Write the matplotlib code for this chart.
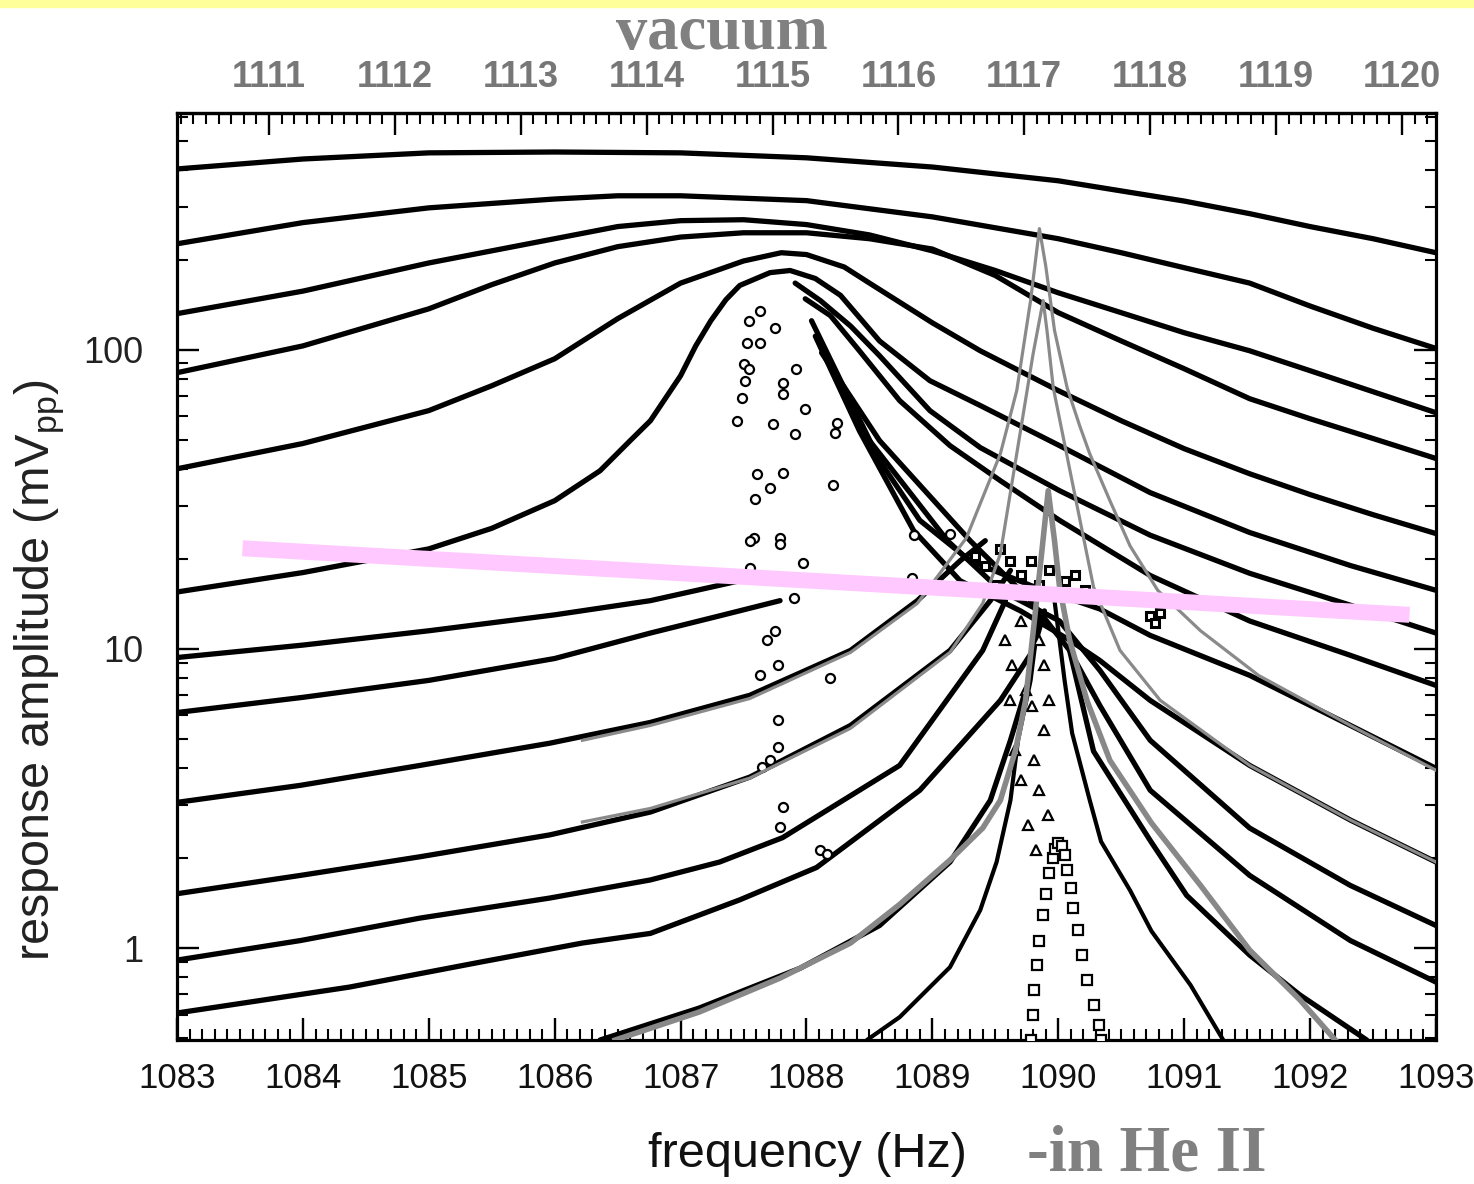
import matplotlib
matplotlib.use("Agg")
import matplotlib.pyplot as plt
from matplotlib.patches import Rectangle
from matplotlib.transforms import ScaledTranslation
from matplotlib.ticker import MultipleLocator, FixedLocator, LogLocator, NullFormatter

plt.rcParams["mathtext.fontset"] = "custom"
plt.rcParams["mathtext.rm"] = "Liberation Sans"

SANS = ["Liberation Sans", "DejaVu Sans"]
SERIF = ["Liberation Serif", "DejaVu Serif"]

# vacuum frequency minus He II frequency (Hz)
vac_shift = 27.27

# ---- broad high-drive sweeps (Hz, mVpp) ----
a1_x = [1083, 1084, 1085, 1086, 1087, 1088, 1089, 1090, 1091, 1091.52, 1092, 1092.5, 1093]
a1_y = [402, 434, 455, 458, 455, 438, 408, 367, 314, 285, 258, 235, 211]

a2_x = [1083, 1084, 1085, 1086, 1086.5, 1087, 1088, 1089, 1090, 1090.5, 1091, 1091.52, 1092, 1092.5, 1093]
a2_y = [226, 266, 298, 319, 327, 327, 315, 278, 235, 211, 188, 167, 140, 118, 101]

a3_x = [1083, 1084, 1085, 1086, 1086.5, 1087, 1087.5, 1088, 1088.5, 1089, 1089.5, 1090, 1090.5, 1091,
        1091.52, 1092, 1092.5, 1093]
a3_y = [132, 157, 195, 235, 258, 270, 272, 262, 242, 214, 184, 155, 133, 114, 99.2, 85.1, 72.4, 61.6]

a4_x = [1083, 1084, 1085, 1085.5, 1086, 1086.5, 1087, 1087.5, 1088, 1088.5, 1089, 1089.5, 1090, 1090.5,
        1091, 1091.52, 1092, 1092.5, 1093]
a4_y = [83.8, 103, 137, 165, 195, 221, 238, 246, 246, 235, 217, 177, 133, 107, 86.4, 68.6, 58.8, 50.5, 43.3]

a5_x = [1083, 1084, 1085, 1085.5, 1086, 1086.5, 1087, 1087.5, 1087.8, 1088, 1088.3, 1088.5, 1089, 1089.38,
        1090, 1090.5, 1091, 1091.52, 1092, 1092.5, 1093]
a5_y = [40.0, 48.6, 62.6, 75.8, 93.3, 127, 167, 198, 211, 208, 189, 167, 123, 99.2, 73.0, 57.9, 46.7, 38.5,
        32.8, 28.1, 24.3]

a6_x = [1083, 1084, 1085, 1085.5, 1086, 1086.36, 1086.6, 1086.76, 1087.0, 1087.12, 1087.24, 1087.36, 1087.47,
        1087.71, 1087.87, 1088.07, 1088.27, 1088.58, 1088.98, 1089.38, 1090.01, 1090.73, 1091.52, 1092.32, 1093]
a6_y = [15.5, 18.0, 21.6, 25.3, 31.3, 39.4, 49.7, 57.9, 81.9, 103, 125, 147, 164, 181, 184, 173, 152, 107,
        78.8, 65.1, 47.8, 33.3, 24.5, 19.0, 15.7]

# ---- hysteretic sweeps: lower branch (left) and upper branch (right) ----
a7_lo_x = [1083, 1084, 1085, 1086, 1086.76, 1087.47]
a7_lo_y = [9.36, 10.3, 11.5, 13.0, 14.5, 16.9]
a7_hi_x = [1087.91, 1088.11, 1088.35, 1088.58, 1088.98, 1089.38, 1090.01, 1090.73, 1091.52, 1092.32, 1093]
a7_hi_y = [167, 146, 120, 95.5, 62.6, 47.1, 33.8, 24.0, 17.9, 14.0, 11.3]

a8_lo_x = [1083, 1084, 1085, 1086, 1086.76, 1087.31, 1087.79]
a8_lo_y = [6.13, 6.89, 7.85, 9.29, 11.3, 12.9, 14.5]
a8_hi_x = [1087.99, 1088.19, 1088.42, 1088.74, 1089.14, 1089.54, 1090.01, 1090.73, 1091.52, 1092.32, 1093]
a8_hi_y = [148, 130, 99.2, 67.6, 47.8, 36.5, 26.9, 17.6, 12.4, 9.52, 7.55]

a9_lo_x = [1083, 1083.98, 1084.93, 1085.96, 1086.76, 1087.55, 1088.35, 1088.88, 1089.22, 1089.42]
a9_lo_y = [3.07, 3.50, 4.08, 4.84, 5.68, 7.00, 9.89, 14.5, 19.7, 23.0]
a9_hi_x = [1088.04, 1088.31, 1088.58, 1088.90, 1089.30, 1089.78, 1090.33, 1090.73, 1091.52, 1092.32, 1093]
a9_hi_y = [125, 73.0, 42.6, 26.9, 19.7, 16.3, 13.6, 11.1, 8.16, 5.55, 3.99]

a10_lo_x = [1083, 1083.98, 1084.93, 1085.96, 1086.76, 1087.55, 1088.35, 1089.14, 1089.46, 1089.62]
a10_lo_y = [1.52, 1.75, 2.02, 2.39, 2.85, 3.73, 5.55, 9.89, 14.5, 18.3]
a10_hi_x = [1088.07, 1088.42, 1088.85, 1089.22, 1089.70, 1090.09, 1090.33, 1090.73, 1091.52, 1092.32, 1093]
a10_hi_y = [111, 53.6, 24.9, 16.9, 13.4, 10.7, 9.15, 6.73, 4.08, 2.68, 1.94]

a11_lo_x = [1083, 1083.98, 1084.93, 1085.96, 1086.76, 1087.31, 1087.81, 1088.74, 1089.40, 1089.58]
a11_lo_y = [0.912, 1.06, 1.26, 1.47, 1.69, 1.94, 2.34, 4.08, 9.89, 14.5]
a11_hi_x = [1088.11, 1088.50, 1089.12, 1089.54, 1090.01, 1090.33, 1090.73, 1091.52, 1092.32, 1093]
a11_hi_y = [103, 49.7, 23.0, 15.7, 12.4, 8.48, 4.95, 2.52, 1.62, 1.19]

a12_lo_x = [1083, 1084.37, 1085.41, 1086.22, 1086.76, 1087.47, 1088.08, 1088.90, 1089.54, 1089.80, 1089.89]
a12_lo_y = [0.607, 0.741, 0.898, 1.04, 1.12, 1.45, 1.86, 3.37, 6.73, 9.89, 13.4]
a12_hi_x = [1088.12, 1088.58, 1089.30, 1089.78, 1090.09, 1090.33, 1090.73, 1091.52, 1092.32, 1093]
a12_hi_y = [97.7, 49.7, 23.0, 14.5, 9.89, 6.47, 3.37, 1.75, 1.06, 0.770]

# ---- low-drive sweeps near the He II resonance ----
b1_lo_x = [1086.36, 1087.15, 1087.95, 1088.58, 1089.14, 1089.46, 1089.62, 1089.74]
b1_lo_y = [0.493, 0.631, 0.857, 1.19, 1.94, 3.12, 4.95, 7.27]
b1_hi_x = [1090.09, 1090.28, 1090.73, 1091.02, 1091.52, 1091.92, 1092.45]
b1_hi_y = [9.89, 4.55, 2.29, 1.50, 0.948, 0.697, 0.493]

b2_lo_x = [1088.48, 1088.74, 1089.14, 1089.38, 1089.51, 1089.62, 1089.68, 1089.78, 1089.85]
b2_lo_y = [0.493, 0.588, 0.864, 1.34, 1.94, 3.12, 4.95, 7.85, 13.4]
b2_hi_x = [1089.97, 1090.05, 1090.11, 1090.25, 1090.34, 1090.57, 1090.74, 1091.05, 1091.31]
b2_hi_y = [14.5, 7.85, 5.23, 3.12, 2.27, 1.56, 1.14, 0.753, 0.493]

b3_x = [1089.78, 1089.80, 1089.81, 1089.83, 1089.85, 1089.88, 1089.90, 1089.93, 1089.96, 1089.97, 1090.00,
        1090.03, 1090.05, 1090.07, 1090.10, 1090.12, 1090.16, 1090.19, 1090.23, 1090.28, 1090.32, 1090.34]
b3_y = [0.493, 0.598, 0.724, 0.878, 1.06, 1.29, 1.52, 1.78, 2.00, 2.15, 2.24,
        2.20, 2.04, 1.82, 1.59, 1.36, 1.15, 0.948, 0.782, 0.646, 0.553, 0.493]

# ---- linear-response fits (grey) ----
g1_x = [1086.22, 1086.76, 1087.55, 1088.35, 1088.88, 1089.27, 1089.54, 1089.67, 1089.78, 1089.85,
        1089.90, 1089.97, 1090.07, 1090.17, 1090.25, 1090.41, 1090.57, 1090.79, 1091.13, 1091.59, 1092.32, 1093]
g1_y = [4.95, 5.55, 6.83, 9.74, 14.2, 23.5, 44.9, 73.0, 146, 254,
        191, 116, 74.7, 55.7, 44.9, 31.3, 22.1, 15.7, 11.5, 8.16, 5.55, 3.93]

g2_x = [1086.22, 1086.76, 1087.55, 1088.35, 1089.14, 1089.40, 1089.54, 1089.67, 1089.80, 1089.88,
        1089.91, 1089.96, 1090.12, 1090.28, 1090.49, 1090.81, 1091.52, 1092.32, 1093]
g2_y = [2.64, 2.93, 3.70, 5.43, 9.74, 14.2, 20.8, 44.9, 96.9, 146,
        116, 74.7, 34.6, 16.1, 9.89, 6.73, 4.08, 2.68, 1.94]

g3_x = [1086.48, 1087.15, 1087.79, 1088.35, 1088.74, 1089.14, 1089.40, 1089.54, 1089.66, 1089.74, 1089.81,
        1089.87, 1089.92, 1089.97, 1090.01, 1090.09, 1090.23, 1090.41, 1090.74, 1091.13, 1091.52, 1091.92,
        1092.20]
g3_y = [0.493, 0.612, 0.794, 1.04, 1.40, 1.97, 2.52, 3.12, 4.58, 6.73, 12.4,
        21.3, 33.8, 23.0, 16.1, 10.7, 6.68, 4.24, 2.62, 1.62, 0.985, 0.671,
        0.493]

# ---- isolated points recorded while the amplitude jumped between branches ----
jump_x = [1087.63, 1087.54, 1087.53, 1087.63, 1087.75, 1087.50, 1087.54, 1087.51, 1087.81, 1087.81,
          1087.92, 1087.99, 1087.49, 1087.45, 1087.73, 1087.91, 1088.24, 1088.23, 1087.61, 1087.81,
          1087.71, 1088.21, 1087.59, 1087.58, 1087.79, 1088.85, 1087.55, 1087.79, 1087.55, 1087.97,
          1087.90, 1088.84, 1089.14, 1087.77, 1087.77, 1087.71, 1087.65, 1087.81, 1087.79, 1088.11,
          1088.16, 1087.77, 1087.63, 1088.19, 1087.75, 1087.69]
jump_y = [135, 125, 105, 105, 118, 89.8, 86.4, 78.8, 77.6, 71.3,
          86.4, 63.6, 69.2, 57.9, 56.6, 52.4, 57.0, 52.8, 38.5, 38.8,
          34.6, 35.3, 31.8, 23.5, 23.4, 24.0, 23.0, 22.5, 18.7, 19.4,
          14.8, 17.2, 24.3, 5.77, 4.69, 4.24, 4.02, 2.96, 2.54, 2.12,
          2.07, 8.81, 8.16, 7.97, 11.5, 10.7]

tri_x = [1089.58, 1089.63, 1089.70, 1089.74, 1089.79, 1089.85, 1089.89, 1089.93, 1089.81, 1089.85,
         1089.92, 1089.70, 1089.66, 1089.76, 1089.82, 1089.89, 1089.62]
tri_y = [10.7, 8.81, 12.4, 7.27, 6.47, 10.7, 8.81, 6.73, 4.24, 3.37,
         2.78, 3.64, 4.58, 2.58, 2.12, 5.35, 6.73]

crowd_x = [1089.54, 1089.62, 1089.70, 1089.78, 1089.85, 1089.93, 1089.99, 1090.05, 1090.13, 1090.21,
           1090.73, 1090.77, 1090.81, 1089.42, 1089.50, 1089.34]
crowd_y = [21.6, 19.7, 17.6, 19.7, 16.3, 18.3, 15.1, 16.9, 17.6, 15.7,
           12.9, 12.2, 13.2, 19.0, 16.3, 20.5]

# threshold guide
guide_x = [1083.52, 1092.79]
guide_y = [21.7, 13.0]

x_ticks = list(range(1083, 1094))
vac_ticks = list(range(1111, 1121))

fig = plt.figure(figsize=(14.74, 11.84), dpi=100)
fig.patches.append(Rectangle((0, 1 - 7 / 1184), 1, 7 / 1184, transform=fig.transFigure,
                             color="#ffff99", zorder=0))
ax = fig.add_axes([0.1201, 0.1216, 0.8541, 0.7829])
ax.set_yscale("log")

black = dict(color="black", lw=3.8, solid_capstyle="round", solid_joinstyle="round", zorder=3)
sweeps = [(a1_x, a1_y), (a2_x, a2_y), (a3_x, a3_y), (a4_x, a4_y), (a5_x, a5_y), (a6_x, a6_y),
          (a7_lo_x, a7_lo_y), (a7_hi_x, a7_hi_y), (a8_lo_x, a8_lo_y), (a8_hi_x, a8_hi_y),
          (a9_lo_x, a9_lo_y), (a9_hi_x, a9_hi_y), (a10_lo_x, a10_lo_y), (a10_hi_x, a10_hi_y),
          (a11_lo_x, a11_lo_y), (a11_hi_x, a11_hi_y), (a12_lo_x, a12_lo_y), (a12_hi_x, a12_hi_y),
          (b1_lo_x, b1_lo_y), (b1_hi_x, b1_hi_y)]
for xs, ys in sweeps:
    ax.plot(xs, ys, **black)

for xs, ys in [(b2_lo_x, b2_lo_y), (b2_hi_x, b2_hi_y)]:
    ax.plot(xs, ys, color="black", lw=3.0, solid_capstyle="round", zorder=3)

ax.plot(b3_x, b3_y, ls="none", marker="s", ms=6.5, mfc="white", mec="black", mew=1.6, zorder=4)
ax.plot(jump_x, jump_y, ls="none", marker="o", ms=6.5, mfc="white", mec="black", mew=1.6, zorder=4)
ax.plot(tri_x, tri_y, ls="none", marker="^", ms=6.5, mfc="white", mec="black", mew=1.6, zorder=4)
ax.plot(crowd_x, crowd_y, ls="none", marker="s", ms=6, mfc="white", mec="black", mew=2.2, zorder=4)

ax.plot(g1_x, g1_y, color="#8a8a8a", lw=2.3, zorder=5)
ax.plot(g2_x, g2_y, color="#8a8a8a", lw=2.3, zorder=5)
ax.plot(g3_x, g3_y, color="#888888", lw=4.0, zorder=5)

ax.plot(guide_x, guide_y, color="#ffc8ff", lw=11.5, solid_capstyle="butt", zorder=6)

ax.set_xlim(1083, 1093)
ax.set_ylim(0.493, 618)

ax.xaxis.set_minor_locator(MultipleLocator(0.1))
ax.set_xticks(x_ticks)
ax.set_xticklabels([str(t) for t in x_ticks], fontfamily=SANS, fontsize=25, color="#111111")
shift = ScaledTranslation(-9 / 100, 0, fig.dpi_scale_trans)
for lbl in ax.get_xticklabels():
    lbl.set_transform(lbl.get_transform() + shift)
ax.yaxis.set_major_locator(FixedLocator([1, 10, 100]))
ax.yaxis.set_minor_locator(LogLocator(base=10, subs=range(2, 10)))
ax.yaxis.set_minor_formatter(NullFormatter())
ax.set_yticks([1, 10, 100])
ax.set_yticklabels(["1", "10", "100"], fontfamily=SANS, fontsize=26, color="#222222")

ax.tick_params(axis="x", which="both", direction="in", top=False, pad=16)
ax.tick_params(axis="y", which="both", direction="in", right=True, pad=24)
ax.tick_params(which="major", length=16, width=1.7)
ax.tick_params(which="minor", length=8, width=1.5)
for sp in ax.spines.values():
    sp.set_linewidth(2.3)

secax = ax.secondary_xaxis("top", functions=(lambda f: f + vac_shift, lambda f: f - vac_shift))
secax.xaxis.set_minor_locator(MultipleLocator(0.1))
secax.set_xticks(vac_ticks)
secax.set_xticklabels([str(t) for t in vac_ticks], fontfamily=SANS, fontweight="bold",
                      fontsize=26, color="#777777")
secax.tick_params(which="both", direction="in", pad=13)
secax.tick_params(which="major", length=16, width=1.7)
secax.tick_params(which="minor", length=8, width=1.5)
secax.spines["top"].set_linewidth(2.3)

fig.text(0.027, 0.434, r"response amplitude (mV$_{\mathrm{pp}}$)", rotation=90, ha="center",
         va="center", fontfamily=SANS, fontsize=35, color="#222222")
fig.text(0.548, 0.025, "frequency (Hz)", ha="center", va="center", fontfamily=SANS,
         fontsize=35, color="#111111")
fig.text(0.697, 0.025, "-in He II", ha="left", va="center", fontfamily=SERIF, fontweight="bold",
         fontsize=47, color="#808080")
fig.text(0.49, 0.971, "vacuum", ha="center", va="center", fontfamily=SERIF, fontweight="bold",
         fontsize=45, color="#808080")

fig.savefig("out.png", dpi=100, facecolor="white")
